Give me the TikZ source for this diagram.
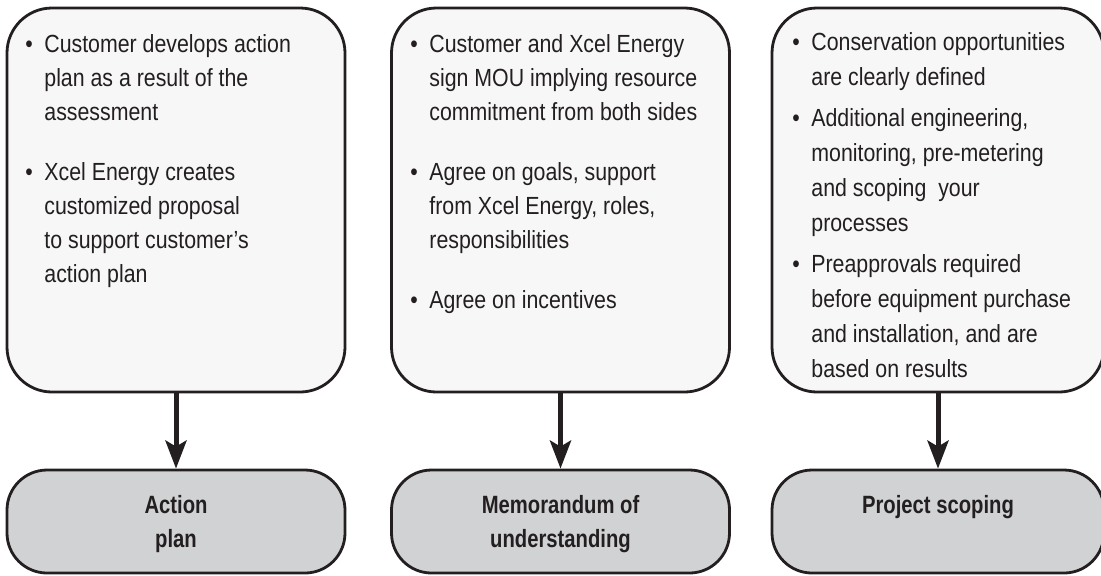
\documentclass[tikz,border=0pt]{standalone}
\usepackage{xcolor}
\usepackage{fontspec}
\setmainfont{Liberation Sans}[FakeStretch=0.86,BoldFeatures={FakeStretch=0.81}]
\usepackage{tikz}
\usetikzlibrary{positioning,arrows.meta}

\definecolor{boxline}{HTML}{231F20}
\definecolor{notefill}{HTML}{F7F7F7}
\definecolor{stagefill}{HTML}{D1D2D4}

\newcommand{\bul}{\makebox[9.5pt][l]{\textbullet}}
\newcommand{\ind}{\hspace*{9.5pt}}

\tikzset{
  notebox/.style={draw=boxline, fill=notefill, line width=1.4pt, rounded corners=22.5pt,
    minimum width=169pt, minimum height=192pt, inner sep=0pt},
  stagebox/.style={draw=boxline, fill=stagefill, line width=1.4pt, rounded corners=20pt,
    minimum width=169pt, minimum height=51.5pt, inner sep=0pt},
  notetext/.style={anchor=north west, align=left, inner sep=0pt, text=boxline,
    font=\fontsize{12.4}{17}\selectfont},
  stagetext/.style={anchor=north, align=center, inner sep=0pt, text=boxline,
    font=\fontsize{12.5}{17}\selectfont\bfseries},
  flow/.style={draw=boxline, line width=2.5pt, -{Stealth[length=14pt,width=10.5pt,inset=3pt]}}
}

\begin{document}
\begin{tikzpicture}[x=0.5pt, y=-0.5pt]
		\clip (0,0) rectangle (1101,575);
		\node[notebox] (plan) at (176,200) {};
		\node[notebox] (mou) at (560.5,200) {};
		\node[notebox, minimum width=166pt] (scope) at (938,200) {};
		\node[stagebox] (planstep) at (176,521.5) {};
		\node[stagebox] (moustep) at (560.5,521.5) {};
		\node[stagebox, minimum width=166pt] (scopestep) at (938,521.5) {};
		\draw[flow] (plan) -- (planstep);
		\draw[flow] (mou) -- (moustep);
		\draw[flow] (scope) -- (scopestep);
		\node[notetext] (plannote) at (25,34) {\bul Customer develops action\\
			\ind plan as a result of the\\
			\ind assessment\\[13pt]
			\bul Xcel Energy creates\\
			\ind customized proposal\\
			\ind to support customer’s\\
			\ind action plan};
		\node[notetext] (mounote) at (410,34) {\bul Customer and Xcel Energy\\
			\ind sign MOU implying resource\\
			\ind commitment from both sides\\[13pt]
			\bul Agree on goals, support\\
			\ind from Xcel Energy, roles,\\
			\ind responsibilities\\[13pt]
			\bul Agree on incentives};
		\node[notetext, font=\fontsize{12.4}{17.5}\selectfont] (scopenote) at (792,32) {\bul Conservation opportunities\\
			\ind are clearly defined\\[3pt]
			\bul Additional engineering,\\
			\ind monitoring, pre-metering\\
			\ind and scoping\ \ your\\
			\ind processes\\[3pt]
			\bul Preapprovals required\\
			\ind before equipment purchase\\
			\ind and installation, and are\\
			\ind based on results};
		\node[stagetext, below=13pt of planstep.north] (planlabel) {Action\\plan};
		\node[stagetext, below=13pt of moustep.north] (moulabel) {Memorandum of\\understanding};
		\node[stagetext, below=13pt of scopestep.north] (scopelabel) {Project scoping};
\end{tikzpicture}
\end{document}
